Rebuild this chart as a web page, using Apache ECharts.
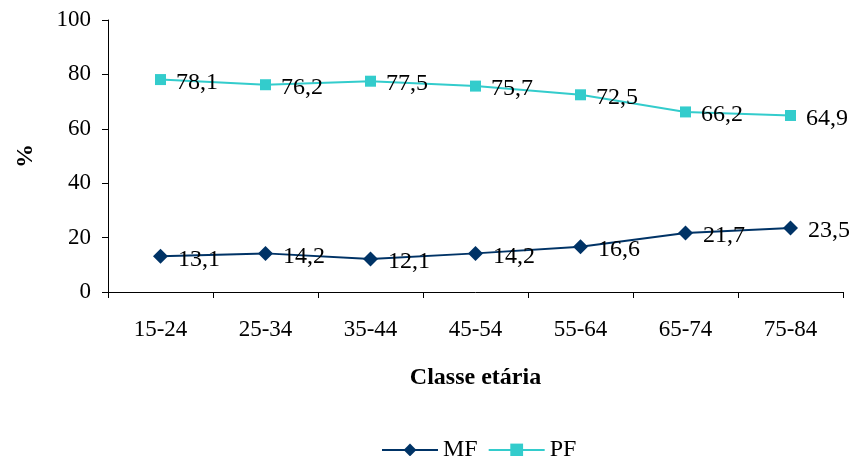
<!DOCTYPE html>
<html><head><meta charset="utf-8">
<script src="https://cdn.jsdelivr.net/npm/echarts@6/dist/echarts.min.js"></script>
<style>html,body{margin:0;padding:0;background:#fff}#c{width:849px;height:456px}</style>
</head><body><div id="c"></div>
<script>
const categories = ['15-24','25-34','35-44','45-54','55-64','65-74','75-84'];
const mfValues = [13.1, 14.2, 12.1, 14.2, 16.6, 21.7, 23.5];
const pfValues = [78.1, 76.2, 77.5, 75.7, 72.5, 66.2, 64.9];
const yTicks = [0, 20, 40, 60, 80, 100];

const font = '"Liberation Serif", "Times New Roman", serif';
const fmt = p => String(p.value).replace('.', ',');
const chart = echarts.init(document.getElementById('c'));
chart.setOption({
  animation: false,
  textStyle: { fontFamily: font },
  grid: { left: 108, right: 6, top: 20, bottom: 164 },
  legend: {
    top: 433, left: 376, itemWidth: 56, itemHeight: 16, itemGap: 10,
    textStyle: { fontFamily: font, fontSize: 24, color: '#000' },
    data: ['MF', 'PF']
  },
  xAxis: {
    type: 'category', data: categories, boundaryGap: true,
    name: 'Classe etária', nameLocation: 'middle', nameGap: 74,
    nameTextStyle: { fontFamily: font, fontSize: 24, fontWeight: 'bold', color: '#000' },
    axisLine: { lineStyle: { color: '#000', width: 1 } },
    axisTick: { show: true, length: 6, alignWithLabel: false, lineStyle: { color: '#000' } },
    axisLabel: { fontFamily: font, fontSize: 23, color: '#000', margin: 26 }
  },
  yAxis: {
    type: 'value', min: yTicks[0], max: yTicks[yTicks.length - 1], interval: 20,
    name: '%', nameLocation: 'middle', nameGap: 70, nameRotate: 90,
    nameTextStyle: { fontFamily: font, fontSize: 24, fontWeight: 'bold', color: '#000' },
    axisLine: { show: true, lineStyle: { color: '#000', width: 1 } },
    axisTick: { show: true, length: 6, lineStyle: { color: '#000' } },
    splitLine: { show: false },
    axisLabel: { fontFamily: font, fontSize: 23, color: '#000', margin: 17 }
  },
  series: [
    {
      name: 'MF', type: 'line', data: mfValues,
      symbol: 'diamond', symbolSize: 15,
      lineStyle: { color: '#003366', width: 2 },
      itemStyle: { color: '#003366' },
      label: { show: true, position: 'right', distance: 10, offset: [0, 3], formatter: fmt,
        fontFamily: font, fontSize: 24, color: '#000' }
    },
    {
      name: 'PF', type: 'line', data: pfValues,
      symbol: 'rect', symbolSize: 11,
      lineStyle: { color: '#33CCCC', width: 2 },
      itemStyle: { color: '#33CCCC' },
      label: { show: true, position: 'right', distance: 10, offset: [0, 3], formatter: fmt,
        fontFamily: font, fontSize: 24, color: '#000' }
    }
  ]
});
</script></body></html>
